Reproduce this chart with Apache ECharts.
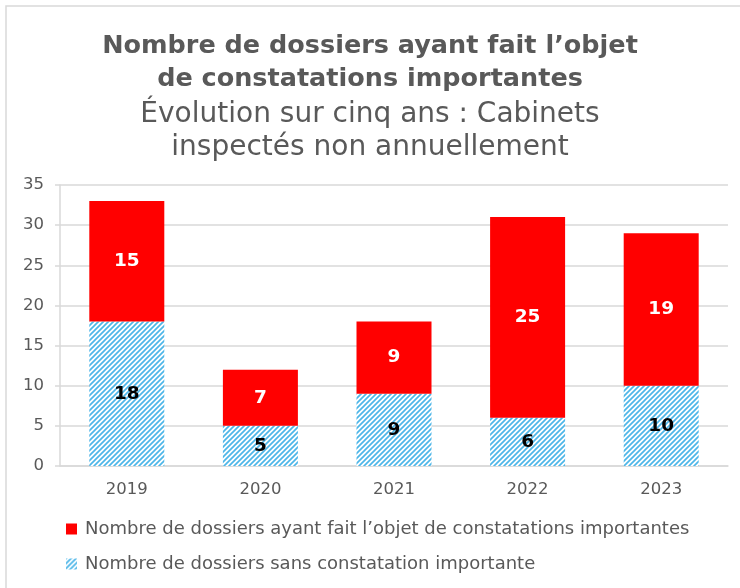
<!DOCTYPE html>
<html>
<head>
<meta charset="utf-8">
<script src="https://cdn.jsdelivr.net/npm/echarts@6/dist/echarts.min.js"></script>
<style>
html,body{margin:0;padding:0;background:#fff;overflow:hidden;}
#c{width:740px;height:588px;}
</style>
</head>
<body>
<div id="c"></div>
<script>
var categories = ['2019', '2020', '2021', '2022', '2023'];
var withFindings = [15, 7, 9, 25, 19];
var withoutFindings = [18, 5, 9, 6, 10];
var seriesNames = ['Nombre de dossiers ayant fait l\u2019objet de constatations importantes', 'Nombre de dossiers sans constatation importante'];
var yTicks = [0, 5, 10, 15, 20, 25, 30, 35];

function hatch() {
  var s = 5;
  var c = document.createElement('canvas');
  c.width = s; c.height = s;
  var g = c.getContext('2d');
  g.fillStyle = '#ffffff';
  g.fillRect(0, 0, s, s);
  g.strokeStyle = '#4db6e8';
  g.lineWidth = 1.7;
  g.beginPath();
  g.moveTo(-1, s + 1); g.lineTo(s + 1, -1);
  g.moveTo(-1, 1); g.lineTo(1, -1);
  g.moveTo(s - 1, s + 1); g.lineTo(s + 1, s - 1);
  g.stroke();
  return c;
}
var pat = { image: hatch(), repeat: 'repeat' };

var font = '"DejaVu Sans", "Open Sans", sans-serif';
var chart = echarts.init(document.getElementById('c'), null, { renderer: 'canvas' });
chart.setOption({
  animation: false,
  textStyle: { fontFamily: font },
  graphic: [{
    type: 'polyline', shape: { points: [[6, 700], [6, 6], [800, 6]] },
    style: { fill: 'none', stroke: '#d9d9d9', lineWidth: 1.5 }, silent: true
  }, {
    type: 'text', left: 'center', top: 30,
    style: {
      text: 'Nombre de dossiers ayant fait l\u2019objet\nde constatations importantes',
      font: 'bold 25.5px ' + font, fill: '#595959', textAlign: 'center', lineHeight: 33
    }
  }, {
    type: 'text', left: 'center', top: 98,
    style: {
      text: '\u00c9volution sur cinq ans : Cabinets\ninspect\u00e9s non annuellement',
      font: '28px ' + font, fill: '#595959', textAlign: 'center', lineHeight: 33
    }
  }],
  grid: { left: 60, right: 12, top: 185, bottom: 122, containLabel: false },
  legend: {
    orient: 'vertical', left: 61, top: 515, itemGap: 17,
    itemWidth: 11, itemHeight: 11, icon: 'rect',
    data: [seriesNames[0], seriesNames[1]],
    textStyle: { color: '#595959', fontSize: 18, fontFamily: font, padding: [0, 0, 0, 3] }
  },
  xAxis: {
    type: 'category', data: categories,
    axisLine: { lineStyle: { color: '#d9d9d9', width: 1.5 } },
    axisTick: { show: false },
    axisLabel: { color: '#595959', fontSize: 16.5, margin: 15 }
  },
  yAxis: {
    type: 'value', min: 0, max: 35, interval: 5,
    axisLine: { show: true, lineStyle: { color: '#d9d9d9', width: 1.5 } },
    axisTick: { show: true, length: 5, lineStyle: { color: '#d9d9d9', width: 1.5 } },
    splitLine: { lineStyle: { color: '#d9d9d9', width: 1.5 } },
    axisLabel: { color: '#595959', fontSize: 16.5, margin: 16,
      formatter: function (v) { return yTicks.indexOf(v) >= 0 ? String(v) : ''; } }
  },
  series: [{
    name: seriesNames[1], type: 'bar', stack: 's', barWidth: 75,
    data: withoutFindings,
    itemStyle: { color: pat },
    label: { show: true, position: 'inside', color: '#000', fontWeight: 'bold', fontSize: 18.5 }
  }, {
    name: seriesNames[0], type: 'bar', stack: 's', barWidth: 75,
    data: withFindings,
    itemStyle: { color: '#ff0000' },
    label: { show: true, position: 'inside', color: '#fff', fontWeight: 'bold', fontSize: 18.5 }
  }]
});
</script>
</body>
</html>
